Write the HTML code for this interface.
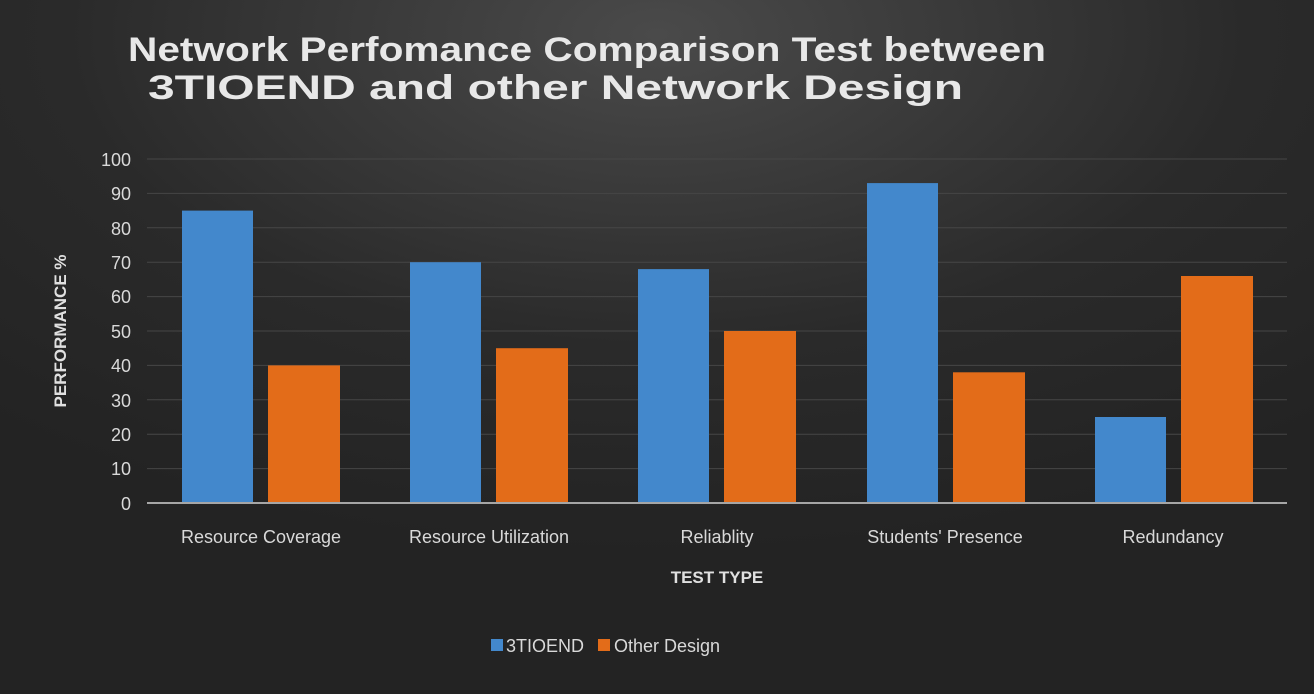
<!DOCTYPE html>
<html><head><style>
html,body{margin:0;padding:0;background:#262626;}
svg{display:block;}
text{font-family:"Liberation Sans",sans-serif;}
</style></head><body>
<svg width="1314" height="694" viewBox="0 0 1314 694" xmlns="http://www.w3.org/2000/svg">
<defs>
<radialGradient id="bg" cx="0.5" cy="0.05" r="0.75">
<stop offset="0" stop-color="#4a4a4a"/>
<stop offset="0.6" stop-color="#2a2a2a"/>
<stop offset="1" stop-color="#232323"/>
</radialGradient>
</defs>
<rect width="1314" height="694" fill="url(#bg)"/>
<text x="128" y="61" fill="#e8e8e8" font-size="34" font-weight="bold" textLength="918" lengthAdjust="spacingAndGlyphs">Network Perfomance Comparison Test between</text>
<text x="148" y="99" fill="#e8e8e8" font-size="34" font-weight="bold" textLength="815" lengthAdjust="spacingAndGlyphs">3TIOEND and other Network Design</text>
<g stroke="#464646" stroke-width="1">
<line x1="147" x2="1287" y1="159" y2="159"/>
<line x1="147" x2="1287" y1="193.4" y2="193.4"/>
<line x1="147" x2="1287" y1="227.8" y2="227.8"/>
<line x1="147" x2="1287" y1="262.2" y2="262.2"/>
<line x1="147" x2="1287" y1="296.6" y2="296.6"/>
<line x1="147" x2="1287" y1="331" y2="331"/>
<line x1="147" x2="1287" y1="365.4" y2="365.4"/>
<line x1="147" x2="1287" y1="399.8" y2="399.8"/>
<line x1="147" x2="1287" y1="434.2" y2="434.2"/>
<line x1="147" x2="1287" y1="468.6" y2="468.6"/>
</g>
<g fill="#d9d9d9" font-size="18" text-anchor="end">
<text x="131" y="166">100</text><text x="131" y="200">90</text><text x="131" y="235">80</text><text x="131" y="269">70</text><text x="131" y="303">60</text><text x="131" y="338">50</text><text x="131" y="372">40</text><text x="131" y="407">30</text><text x="131" y="441">20</text><text x="131" y="475">10</text><text x="131" y="510">0</text>
</g>
<text transform="translate(66,331) rotate(-90)" fill="#e0e0e0" font-size="17" font-weight="bold" text-anchor="middle">PERFORMANCE %</text>
<g fill="#4388cc">
<rect x="182" y="210.6" width="71" height="292.4"/>
<rect x="410" y="262.2" width="71" height="240.8"/>
<rect x="638" y="269.1" width="71" height="233.9"/>
<rect x="867" y="183.1" width="71" height="319.9"/>
<rect x="1095" y="417" width="71" height="86"/>
</g>
<g fill="#e36c19">
<rect x="268" y="365.4" width="72" height="137.6"/>
<rect x="496" y="348.2" width="72" height="154.8"/>
<rect x="724" y="331" width="72" height="172"/>
<rect x="953" y="372.3" width="72" height="130.7"/>
<rect x="1181" y="276" width="72" height="227"/>
</g>
<line x1="147" x2="1287" y1="503" y2="503" stroke="#a6a6a6" stroke-width="2"/>
<g fill="#d9d9d9" font-size="18" text-anchor="middle">
<text x="261" y="543">Resource Coverage</text>
<text x="489" y="543">Resource Utilization</text>
<text x="717" y="543">Reliablity</text>
<text x="945" y="543">Students' Presence</text>
<text x="1173" y="543">Redundancy</text>
</g>
<text x="717" y="583" fill="#e0e0e0" font-size="17" font-weight="bold" text-anchor="middle">TEST TYPE</text>
<rect x="491" y="639" width="12" height="12" fill="#4388cc"/>
<text x="506" y="652" fill="#d9d9d9" font-size="18">3TIOEND</text>
<rect x="598" y="639" width="12" height="12" fill="#e36c19"/>
<text x="614" y="652" fill="#d9d9d9" font-size="18">Other Design</text>
</svg>
</body></html>
